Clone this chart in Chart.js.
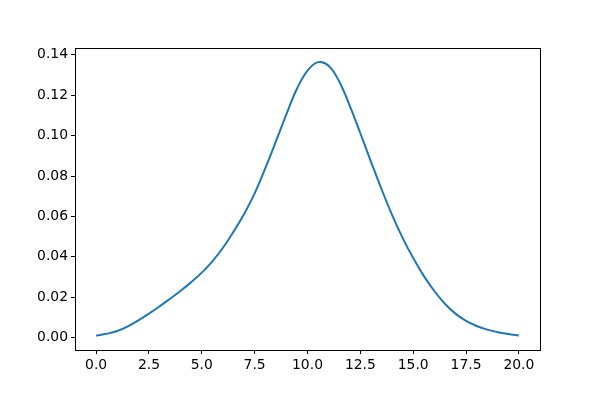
<!DOCTYPE html>
<html>
<head>
<meta charset="utf-8">
<script src="https://cdn.jsdelivr.net/npm/chart.js@4/dist/chart.umd.min.js"></script>
<style>
  html, body { margin: 0; padding: 0; background: #fff; }
  #wrap { width: 600px; height: 400px; }
</style>
</head>
<body>
<div id="wrap"><canvas id="c" width="600" height="400"></canvas></div>
<script>
const xValues = [0, 0.5, 1, 1.5, 2, 2.5, 3, 3.5, 4, 4.5, 5, 5.5, 6, 6.5, 7, 7.5, 8, 8.5, 9, 9.5, 10, 10.5, 11, 11.5, 12, 12.5, 13, 13.5, 14, 14.5, 15, 15.5, 16, 16.5, 17, 17.5, 18, 18.5, 19, 19.5, 20];
const densityValues = [0.0010, 0.0019, 0.0033, 0.0056, 0.0086, 0.0119, 0.0155, 0.0193, 0.0232, 0.0275, 0.0322, 0.0378, 0.0445, 0.0524, 0.0612, 0.0714, 0.0838, 0.0970, 0.1106, 0.1232, 0.1322, 0.1364, 0.1346, 0.1268, 0.1148, 0.1012, 0.0872, 0.0736, 0.0608, 0.0494, 0.0394, 0.0306, 0.0231, 0.0168, 0.0119, 0.0083, 0.0058, 0.0040, 0.0027, 0.0018, 0.0011];
const xTickValues = [0, 2.5, 5, 7.5, 10, 12.5, 15, 17.5, 20];
const yTickValues = [0, 0.02, 0.04, 0.06, 0.08, 0.10, 0.12, 0.14];

const points = xValues.map((x, i) => ({ x: x, y: densityValues[i] }));

const frame = {
  id: 'frame',
  afterDraw(chart) {
    const a = chart.chartArea, ctx = chart.ctx;
    ctx.save();
    ctx.strokeStyle = '#000';
    ctx.lineWidth = 1;
    ctx.strokeRect(Math.round(a.left) + 0.5, Math.round(a.top) + 0.5, Math.round(a.right - a.left), Math.round(a.bottom - a.top));
    ctx.restore();
  }
};

const font = { family: 'DejaVu Sans', size: 13.9 };

new Chart(document.getElementById('c'), {
  type: 'line',
  data: {
    datasets: [{
      data: points,
      borderColor: '#1f77b4',
      borderWidth: 2,
      pointRadius: 0,
      fill: false,
      tension: 0.4
    }]
  },
  options: {
    responsive: false,
    animation: false,
    devicePixelRatio: 1,
    layout: { padding: { top: 48, right: 60, left: 0, bottom: 0 } },
    plugins: { legend: { display: false }, tooltip: { enabled: false } },
    scales: {
      x: {
        type: 'linear',
        min: -1, max: 21,
        afterBuildTicks(axis) { axis.ticks = xTickValues.map(v => ({ value: v })); },
        afterFit(axis) { axis.height = 50; },
        grid: { drawOnChartArea: false, drawTicks: true, tickLength: 4, tickColor: '#000' },
        border: { display: true, color: '#000', width: 1 },
        ticks: { color: '#000', font: font, padding: 3, maxRotation: 0, autoSkip: false,
          callback: v => Number(v).toFixed(1) }
      },
      y: {
        type: 'linear',
        min: -0.0061, max: 0.1434,
        afterBuildTicks(axis) { axis.ticks = yTickValues.map(v => ({ value: v })); },
        afterFit(axis) { axis.width = 75; },
        grid: { drawOnChartArea: false, drawTicks: true, tickLength: 4, tickColor: '#000' },
        border: { display: true, color: '#000', width: 1 },
        ticks: { color: '#000', font: font, padding: 3, autoSkip: false,
          callback: v => Number(v).toFixed(2) }
      }
    }
  },
  plugins: [frame]
});
</script>
</body>
</html>
